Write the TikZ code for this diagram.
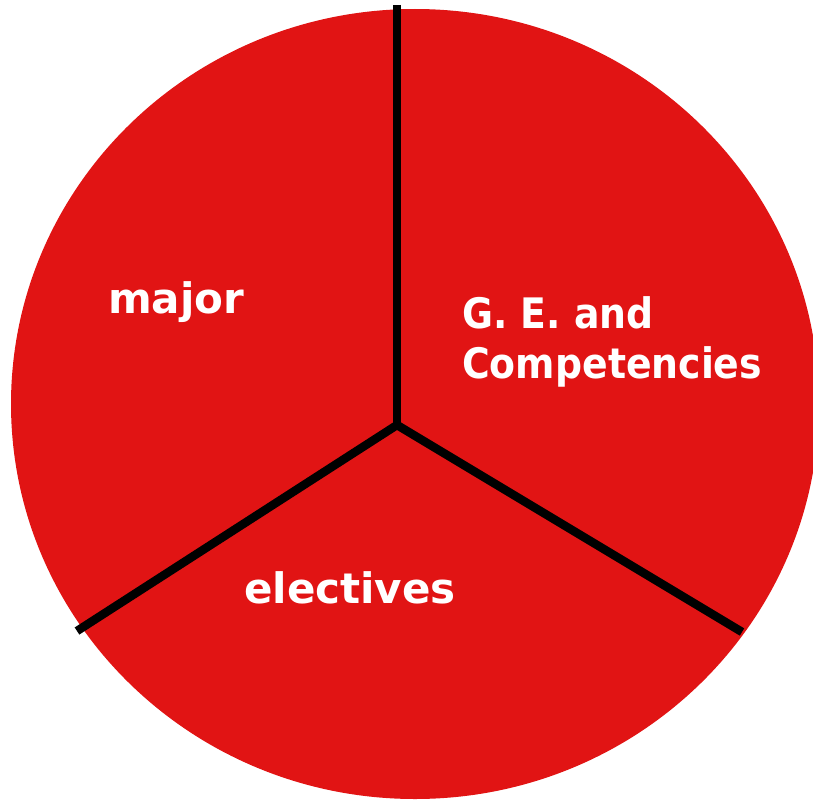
\documentclass[tikz,border=0pt]{standalone}
\usepackage{fontspec}
\setmainfont{DejaVu Sans}
\newfontfamily\labfont[FakeStretch=0.9]{DejaVu Sans Bold}
\newfontfamily\labfontW{DejaVu Sans Bold}
\definecolor{pie}{RGB}{225,20,20}
\begin{document}
\begin{tikzpicture}[x=1pt,y=-1pt,
  divider/.style={line width=8.5pt,draw=black},
  lab/.style={text=white,font=\labfont\fontsize{42}{50}\selectfont,anchor=base west,inner sep=0pt,align=left},
  labw/.style={lab,font=\labfontW\fontsize{42}{50}\selectfont}]
\useasboundingbox (0,0) rectangle (813,800);
\begin{scope}
\clip (0,0) rectangle (813,800);
\fill[pie] (415,404) ellipse [x radius=404, y radius=395];
\end{scope}
\coordinate (c) at (397,425);
\coordinate (t) at (397,5);
\coordinate (l) at (77,631);
\coordinate (r) at (742,632);
\draw[divider] (t) -- (c);
\draw[divider] (c) -- (l);
\draw[divider] (c) -- (r);
\node[labw] (major) at (108,313) {major};
\node[lab] (ge) at (462,328) {G. E. and};
\node[lab] (comp) at (462,378) {Competencies};
\node[labw] (elec) at (244,603) {electives};
\end{tikzpicture}
\end{document}
